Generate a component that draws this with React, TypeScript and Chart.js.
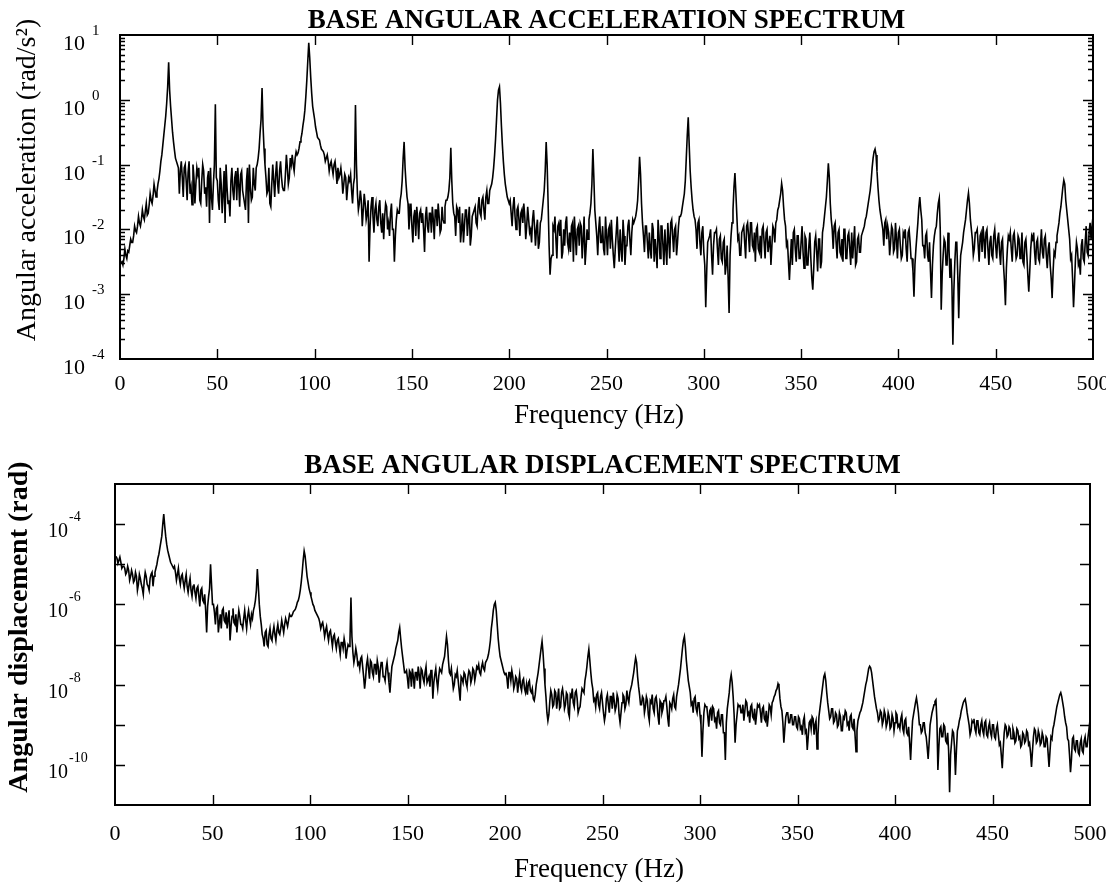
import React, { useEffect, useRef } from "react";
import { Chart, registerables } from "chart.js";

Chart.register(...registerables);

// Frequency grid (Hz), whole-Hz bins shared by both spectra
const frequencyHz = [
  1, 2, 3, 4, 5, 6, 7, 8, 9, 10,
  11, 12, 13, 14, 15, 16, 17, 18, 19, 20,
  21, 22, 23, 24, 25, 26, 27, 28, 29, 30,
  31, 32, 33, 34, 35, 36, 37, 38, 39, 40,
  41, 42, 43, 44, 45, 46, 47, 48, 49, 50,
  51, 52, 53, 54, 55, 56, 57, 58, 59, 60,
  61, 62, 63, 64, 65, 66, 67, 68, 69, 70,
  71, 72, 73, 74, 75, 76, 77, 78, 79, 80,
  81, 82, 83, 84, 85, 86, 87, 88, 89, 90,
  91, 92, 93, 94, 95, 96, 97, 98, 99, 100,
  101, 102, 103, 104, 105, 106, 107, 108, 109, 110,
  111, 112, 113, 114, 115, 116, 117, 118, 119, 120,
  121, 122, 123, 124, 125, 126, 127, 128, 129, 130,
  131, 132, 133, 134, 135, 136, 137, 138, 139, 140,
  141, 142, 143, 144, 145, 146, 147, 148, 149, 150,
  151, 152, 153, 154, 155, 156, 157, 158, 159, 160,
  161, 162, 163, 164, 165, 166, 167, 168, 169, 170,
  171, 172, 173, 174, 175, 176, 177, 178, 179, 180,
  181, 182, 183, 184, 185, 186, 187, 188, 189, 190,
  191, 192, 193, 194, 195, 196, 197, 198, 199, 200,
  201, 202, 203, 204, 205, 206, 207, 208, 209, 210,
  211, 212, 213, 214, 215, 216, 217, 218, 219, 220,
  221, 222, 223, 224, 225, 226, 227, 228, 229, 230,
  231, 232, 233, 234, 235, 236, 237, 238, 239, 240,
  241, 242, 243, 244, 245, 246, 247, 248, 249, 250,
  251, 252, 253, 254, 255, 256, 257, 258, 259, 260,
  261, 262, 263, 264, 265, 266, 267, 268, 269, 270,
  271, 272, 273, 274, 275, 276, 277, 278, 279, 280,
  281, 282, 283, 284, 285, 286, 287, 288, 289, 290,
  291, 292, 293, 294, 295, 296, 297, 298, 299, 300,
  301, 302, 303, 304, 305, 306, 307, 308, 309, 310,
  311, 312, 313, 314, 315, 316, 317, 318, 319, 320,
  321, 322, 323, 324, 325, 326, 327, 328, 329, 330,
  331, 332, 333, 334, 335, 336, 337, 338, 339, 340,
  341, 342, 343, 344, 345, 346, 347, 348, 349, 350,
  351, 352, 353, 354, 355, 356, 357, 358, 359, 360,
  361, 362, 363, 364, 365, 366, 367, 368, 369, 370,
  371, 372, 373, 374, 375, 376, 377, 378, 379, 380,
  381, 382, 383, 384, 385, 386, 387, 388, 389, 390,
  391, 392, 393, 394, 395, 396, 397, 398, 399, 400,
  401, 402, 403, 404, 405, 406, 407, 408, 409, 410,
  411, 412, 413, 414, 415, 416, 417, 418, 419, 420,
  421, 422, 423, 424, 425, 426, 427, 428, 429, 430,
  431, 432, 433, 434, 435, 436, 437, 438, 439, 440,
  441, 442, 443, 444, 445, 446, 447, 448, 449, 450,
  451, 452, 453, 454, 455, 456, 457, 458, 459, 460,
  461, 462, 463, 464, 465, 466, 467, 468, 469, 470,
  471, 472, 473, 474, 475, 476, 477, 478, 479, 480,
  481, 482, 483, 484, 485, 486, 487, 488, 489, 490,
  491, 492, 493, 494, 495, 496, 497, 498, 499, 500,
];

// Half-Hz bins in between
const frequencyHzHalf = [
  0.5, 1.5, 2.5, 3.5, 4.5, 5.5, 6.5, 7.5, 8.5, 9.5,
  10.5, 11.5, 12.5, 13.5, 14.5, 15.5, 16.5, 17.5, 18.5, 19.5,
  20.5, 21.5, 22.5, 23.5, 24.5, 25.5, 26.5, 27.5, 28.5, 29.5,
  30.5, 31.5, 32.5, 33.5, 34.5, 35.5, 36.5, 37.5, 38.5, 39.5,
  40.5, 41.5, 42.5, 43.5, 44.5, 45.5, 46.5, 47.5, 48.5, 49.5,
  50.5, 51.5, 52.5, 53.5, 54.5, 55.5, 56.5, 57.5, 58.5, 59.5,
  60.5, 61.5, 62.5, 63.5, 64.5, 65.5, 66.5, 67.5, 68.5, 69.5,
  70.5, 71.5, 72.5, 73.5, 74.5, 75.5, 76.5, 77.5, 78.5, 79.5,
  80.5, 81.5, 82.5, 83.5, 84.5, 85.5, 86.5, 87.5, 88.5, 89.5,
  90.5, 91.5, 92.5, 93.5, 94.5, 95.5, 96.5, 97.5, 98.5, 99.5,
  100.5, 101.5, 102.5, 103.5, 104.5, 105.5, 106.5, 107.5, 108.5, 109.5,
  110.5, 111.5, 112.5, 113.5, 114.5, 115.5, 116.5, 117.5, 118.5, 119.5,
  120.5, 121.5, 122.5, 123.5, 124.5, 125.5, 126.5, 127.5, 128.5, 129.5,
  130.5, 131.5, 132.5, 133.5, 134.5, 135.5, 136.5, 137.5, 138.5, 139.5,
  140.5, 141.5, 142.5, 143.5, 144.5, 145.5, 146.5, 147.5, 148.5, 149.5,
  150.5, 151.5, 152.5, 153.5, 154.5, 155.5, 156.5, 157.5, 158.5, 159.5,
  160.5, 161.5, 162.5, 163.5, 164.5, 165.5, 166.5, 167.5, 168.5, 169.5,
  170.5, 171.5, 172.5, 173.5, 174.5, 175.5, 176.5, 177.5, 178.5, 179.5,
  180.5, 181.5, 182.5, 183.5, 184.5, 185.5, 186.5, 187.5, 188.5, 189.5,
  190.5, 191.5, 192.5, 193.5, 194.5, 195.5, 196.5, 197.5, 198.5, 199.5,
  200.5, 201.5, 202.5, 203.5, 204.5, 205.5, 206.5, 207.5, 208.5, 209.5,
  210.5, 211.5, 212.5, 213.5, 214.5, 215.5, 216.5, 217.5, 218.5, 219.5,
  220.5, 221.5, 222.5, 223.5, 224.5, 225.5, 226.5, 227.5, 228.5, 229.5,
  230.5, 231.5, 232.5, 233.5, 234.5, 235.5, 236.5, 237.5, 238.5, 239.5,
  240.5, 241.5, 242.5, 243.5, 244.5, 245.5, 246.5, 247.5, 248.5, 249.5,
  250.5, 251.5, 252.5, 253.5, 254.5, 255.5, 256.5, 257.5, 258.5, 259.5,
  260.5, 261.5, 262.5, 263.5, 264.5, 265.5, 266.5, 267.5, 268.5, 269.5,
  270.5, 271.5, 272.5, 273.5, 274.5, 275.5, 276.5, 277.5, 278.5, 279.5,
  280.5, 281.5, 282.5, 283.5, 284.5, 285.5, 286.5, 287.5, 288.5, 289.5,
  290.5, 291.5, 292.5, 293.5, 294.5, 295.5, 296.5, 297.5, 298.5, 299.5,
  300.5, 301.5, 302.5, 303.5, 304.5, 305.5, 306.5, 307.5, 308.5, 309.5,
  310.5, 311.5, 312.5, 313.5, 314.5, 315.5, 316.5, 317.5, 318.5, 319.5,
  320.5, 321.5, 322.5, 323.5, 324.5, 325.5, 326.5, 327.5, 328.5, 329.5,
  330.5, 331.5, 332.5, 333.5, 334.5, 335.5, 336.5, 337.5, 338.5, 339.5,
  340.5, 341.5, 342.5, 343.5, 344.5, 345.5, 346.5, 347.5, 348.5, 349.5,
  350.5, 351.5, 352.5, 353.5, 354.5, 355.5, 356.5, 357.5, 358.5, 359.5,
  360.5, 361.5, 362.5, 363.5, 364.5, 365.5, 366.5, 367.5, 368.5, 369.5,
  370.5, 371.5, 372.5, 373.5, 374.5, 375.5, 376.5, 377.5, 378.5, 379.5,
  380.5, 381.5, 382.5, 383.5, 384.5, 385.5, 386.5, 387.5, 388.5, 389.5,
  390.5, 391.5, 392.5, 393.5, 394.5, 395.5, 396.5, 397.5, 398.5, 399.5,
  400.5, 401.5, 402.5, 403.5, 404.5, 405.5, 406.5, 407.5, 408.5, 409.5,
  410.5, 411.5, 412.5, 413.5, 414.5, 415.5, 416.5, 417.5, 418.5, 419.5,
  420.5, 421.5, 422.5, 423.5, 424.5, 425.5, 426.5, 427.5, 428.5, 429.5,
  430.5, 431.5, 432.5, 433.5, 434.5, 435.5, 436.5, 437.5, 438.5, 439.5,
  440.5, 441.5, 442.5, 443.5, 444.5, 445.5, 446.5, 447.5, 448.5, 449.5,
  450.5, 451.5, 452.5, 453.5, 454.5, 455.5, 456.5, 457.5, 458.5, 459.5,
  460.5, 461.5, 462.5, 463.5, 464.5, 465.5, 466.5, 467.5, 468.5, 469.5,
  470.5, 471.5, 472.5, 473.5, 474.5, 475.5, 476.5, 477.5, 478.5, 479.5,
  480.5, 481.5, 482.5, 483.5, 484.5, 485.5, 486.5, 487.5, 488.5, 489.5,
  490.5, 491.5, 492.5, 493.5, 494.5, 495.5, 496.5, 497.5, 498.5, 499.5,
];

// Base angular acceleration, log10(rad/s^2), at whole-Hz bins
const accelLog10 = [
  -2.50, -2.45, -2.40, -2.33, -2.25, -2.20, -2.10, -2.02, -1.95, -1.90,
  -1.85, -1.80, -1.72, -1.78, -1.62, -1.55, -1.48, -1.40, -1.42, -1.22,
  -0.95, -0.70, -0.40, -0.05, 0.58, -0.10, -0.50, -0.78, -0.95, -1.05,
  -1.10, -1.20, -1.05, -1.25, -1.12, -1.45, -1.62, -1.20, -1.30, -1.15,
  -1.55, -1.25, -1.10, -1.35, -1.20, -1.90, -1.50, -1.30, -0.07, -1.25,
  -1.70, -1.30, -1.45, -1.90, -1.35, -1.55, -1.25, -1.40, -1.20, -1.55,
  -1.30, -1.15, -1.40, -1.60, -1.25, -1.90, -1.35, -1.50, -1.30, -1.05,
  -0.90, -0.50, 0.18, -0.75, -1.20, -1.40, -1.60, -1.30, -1.25, -1.15,
  -1.30, -1.10, -1.20, -1.40, -1.15, -1.05, -1.20, -1.00, -1.00, -0.90,
  -0.85, -0.75, -0.60, -0.40, -0.16, 0.30, 0.88, 0.35, -0.10, -0.30,
  -0.50, -0.60, -0.70, -0.78, -0.85, -0.90, -0.95, -1.00, -1.05, -1.00,
  -1.10, -1.05, -1.15, -1.20, -1.30, -1.20, -1.35, -1.25, -1.40, -1.30,
  -0.08, -1.45, -1.60, -1.55, -1.70, -1.60, -1.75, -2.50, -1.65, -1.80,
  -1.70, -1.85, -1.65, -1.90, -1.75, -1.80, -1.65, -1.90, -1.75, -2.00,
  -2.50, -1.85, -1.75, -1.55, -1.25, -0.65, -1.30, -1.60, -1.75, -1.95,
  -1.80, -2.10, -1.85, -1.75, -1.90, -2.00, -1.80, -1.95, -1.75, -2.05,
  -1.85, -1.70, -1.95, -1.80, -2.00, -1.85, -1.65, -1.55, -1.40, -0.74,
  -1.60, -1.80, -1.65, -1.90, -2.20, -1.75, -1.95, -1.70, -1.85, -2.25,
  -1.80, -1.70, -1.90, -1.65, -1.75, -1.55, -1.70, -1.50, -1.60, -1.40,
  -1.30, -1.05, -0.60, 0.00, 0.20, -0.40, -0.95, -1.30, -1.50, -1.60,
  -1.75, -1.65, -1.80, -1.70, -1.85, -1.75, -1.90, -1.80, -1.95, -1.85,
  -2.00, -1.85, -1.95, -2.00, -2.30, -1.90, -1.70, -1.40, -0.65, -1.60,
  -2.70, -2.40, -2.00, -2.15, -1.95, -2.10, -2.45, -2.00, -1.90, -2.20,
  -2.05, -1.95, -2.50, -2.10, -2.00, -2.25, -1.95, -2.15, -2.55, -2.00,
  -1.85, -1.60, -0.76, -1.70, -2.10, -2.00, -2.20, -1.95, -2.40, -2.10,
  -2.00, -2.30, -2.15, -2.60, -2.05, -2.20, -2.00, -2.50, -2.10, -2.25,
  -1.95, -2.15, -2.05, -1.90, -1.80, -1.55, -0.88, -1.60, -2.10, -1.95,
  -2.20, -2.05, -2.45, -2.00, -2.15, -2.60, -2.10, -1.95, -2.25, -2.00,
  -2.55, -2.15, -1.90, -2.10, -2.00, -2.40, -1.95, -1.80, -1.65, -1.45,
  -0.90, -0.27, -1.10, -1.55, -1.80, -2.00, -1.90, -2.20, -2.05, -2.35,
  -3.20, -2.20, -2.10, -2.40, -2.25, -2.05, -2.30, -2.15, -2.45, -2.20,
  -2.70, -2.25, -3.29, -2.10, -1.70, -1.13, -1.80, -2.10, -2.40, -2.00,
  -2.20, -1.95, -2.10, -1.90, -2.25, -2.05, -2.00, -2.30, -2.10, -2.00,
  -2.20, -2.05, -2.35, -2.10, -2.25, -2.00, -1.90, -1.70, -1.55, -1.29,
  -1.65, -1.95, -2.20, -2.78, -2.15, -2.05, -2.30, -2.10, -2.45, -2.20,
  -2.35, -2.10, -2.55, -2.25, -2.45, -2.93, -2.20, -2.35, -2.15, -2.60,
  -2.05, -1.80, -1.50, -0.98, -1.60, -2.00, -1.95, -2.20, -2.05, -2.35,
  -2.15, -2.00, -2.45, -2.10, -2.30, -2.05, -2.20, -2.55, -2.15, -2.35,
  -2.10, -2.00, -1.85, -1.70, -1.50, -1.25, -0.90, -0.76, -1.10, -1.55,
  -1.80, -2.00, -1.90, -2.15, -2.05, -2.20, -2.00, -2.30, -2.15, -2.05,
  -2.25, -2.40, -2.10, -2.30, -2.05, -2.20, -2.45, -3.04, -2.30, -1.90,
  -1.50, -1.85, -2.25, -2.10, -2.40, -2.20, -3.06, -2.25, -2.00, -1.75,
  -1.52, -3.24, -2.40, -2.20, -2.55, -2.30, -2.45, -3.78, -2.50, -2.20,
  -3.37, -2.40, -2.20, -1.95, -1.70, -1.44, -1.85, -2.15, -2.30, -2.05,
  -2.25, -2.10, -2.35, -2.15, -2.05, -2.30, -2.20, -2.40, -2.10, -2.25,
  -2.15, -2.35, -2.20, -2.55, -3.17, -2.30, -2.15, -2.30, -2.10, -2.25,
  -2.40, -2.15, -2.35, -2.50, -2.20, -2.40, -2.96, -2.30, -2.15, -2.35,
  -2.20, -2.45, -2.25, -2.35, -2.15, -2.40, -2.30, -2.55, -3.06, -2.35,
  -2.20, -2.00, -1.75, -1.50, -1.24, -1.55, -1.85, -2.15, -2.40, -3.20,
  -2.45, -2.30, -2.50, -2.25, -2.45, -2.20, -2.35, -2.05, -2.15, -1.80,
];

// Base angular acceleration, log10(rad/s^2), at half-Hz bins
const accelLog10Half = [
  -2.52, -2.55, -2.30, -2.45, -2.35, -2.15, -2.20, -1.95, -2.05, -1.80,
  -1.95, -1.70, -1.85, -1.60, -1.75, -1.45, -1.60, -1.30, -1.50, -1.30,
  -1.10, -0.85, -0.55, -0.25, 0.20, 0.15, -0.30, -0.65, -0.90, -1.00,
  -1.45, -0.95, -1.50, -1.00, -1.55, -0.95, -1.35, -1.00, -1.60, -1.05,
  -1.05, -1.60, -1.00, -1.45, -1.65, -1.10, -1.05, -1.70, -1.00, -1.20,
  -1.55, -1.05, -1.75, -1.10, -1.00, -1.60, -1.80, -1.05, -1.55, -1.10,
  -1.05, -1.65, -1.10, -1.50, -1.70, -1.05, -1.00, -1.55, -1.05, -1.40,
  -1.00, -0.75, -0.30, -0.40, -1.00, -1.45, -1.05, -1.65, -1.00, -1.50,
  -0.95, -1.45, -0.95, -1.35, -1.40, -0.85, -1.30, -0.90, -0.85, -1.10,
  -0.80, -0.82, -0.65, -0.52, -0.30, 0.05, 0.60, 0.65, 0.10, -0.20,
  -0.42, -0.58, -0.62, -0.76, -0.80, -0.95, -0.85, -1.10, -0.95, -1.15,
  -0.95, -1.30, -1.20, -1.05, -1.45, -1.15, -1.55, -1.20, -1.15, -1.60,
  -1.20, -1.00, -1.70, -1.40, -1.95, -1.45, -1.85, -1.55, -1.95, -1.50,
  -2.05, -1.60, -1.95, -1.55, -2.05, -2.15, -1.60, -2.00, -2.10, -1.60,
  -2.00, -2.10, -1.70, -1.75, -1.45, -0.90, -1.05, -1.50, -2.00, -1.60,
  -2.20, -1.70, -1.65, -2.15, -1.70, -1.75, -2.35, -1.65, -2.05, -1.75,
  -1.65, -2.15, -1.70, -1.60, -2.05, -1.65, -1.90, -1.55, -1.50, -1.20,
  -1.25, -1.75, -2.10, -1.70, -1.65, -2.00, -2.20, -1.70, -2.10, -1.65,
  -2.10, -1.75, -1.65, -1.95, -1.50, -1.80, -1.50, -1.85, -1.40, -1.60,
  -1.35, -1.20, -0.85, -0.30, 0.15, -0.05, -0.70, -1.15, -1.40, -1.55,
  -1.55, -1.95, -1.50, -2.00, -1.65, -2.10, -1.70, -1.60, -2.15, -1.65,
  -2.05, -2.20, -1.70, -2.25, -1.85, -2.20, -1.85, -1.55, -1.10, -1.00,
  -2.25, -2.45, -1.95, -1.80, -2.45, -1.90, -1.85, -2.35, -2.25, -1.80,
  -2.30, -2.35, -1.90, -1.80, -2.40, -1.95, -1.90, -2.45, -1.80, -2.30,
  -2.15, -1.75, -1.30, -1.20, -1.90, -2.40, -1.80, -2.20, -2.30, -1.80,
  -2.40, -1.95, -1.85, -2.40, -2.30, -1.80, -2.50, -2.30, -1.85, -2.55,
  -2.25, -1.85, -2.40, -1.85, -1.85, -1.70, -1.25, -1.15, -1.90, -2.35,
  -1.95, -2.45, -2.30, -1.90, -2.50, -2.35, -1.85, -2.45, -1.95, -2.55,
  -2.30, -1.90, -2.45, -1.85, -2.35, -1.95, -2.20, -1.80, -1.75, -1.55,
  -1.25, -0.55, -0.70, -1.35, -1.70, -1.85, -2.30, -1.85, -2.40, -1.95,
  -2.55, -2.65, -2.15, -2.00, -2.70, -2.05, -2.00, -2.55, -2.10, -2.50,
  -2.15, -2.55, -2.75, -2.40, -1.90, -1.35, -1.45, -2.15, -2.40, -2.05,
  -1.95, -2.45, -1.90, -2.35, -1.90, -2.30, -2.50, -1.95, -2.35, -2.45,
  -1.95, -2.45, -2.00, -2.35, -2.55, -1.95, -2.20, -1.85, -1.65, -1.45,
  -1.40, -1.85, -2.25, -2.50, -2.45, -2.55, -2.00, -2.50, -2.10, -2.45,
  -1.95, -2.60, -2.15, -2.55, -2.05, -2.75, -2.60, -2.10, -2.65, -2.15,
  -2.50, -1.95, -1.65, -1.25, -1.20, -1.85, -2.30, -1.90, -2.45, -2.00,
  -2.40, -2.50, -2.00, -2.45, -2.05, -2.55, -2.45, -1.95, -2.50, -2.10,
  -2.35, -2.05, -1.95, -1.80, -1.60, -1.40, -1.05, -0.80, -0.85, -1.35,
  -1.70, -1.90, -2.25, -1.85, -1.95, -2.40, -1.95, -2.35, -1.90, -2.45,
  -2.00, -2.45, -2.05, -2.00, -2.50, -2.00, -2.45, -2.65, -2.55, -2.10,
  -1.65, -1.70, -2.25, -2.45, -2.05, -2.50, -2.65, -2.55, -2.10, -1.95,
  -1.60, -2.00, -2.70, -2.15, -2.55, -2.05, -2.75, -2.85, -2.95, -2.20,
  -2.70, -2.75, -2.30, -2.05, -1.85, -1.55, -1.60, -2.00, -2.40, -2.05,
  -2.00, -2.50, -2.05, -1.95, -2.45, -2.00, -2.55, -2.10, -2.45, -2.00,
  -2.45, -2.05, -2.55, -2.15, -2.80, -2.60, -2.10, -2.05, -2.50, -2.05,
  -2.45, -2.10, -2.45, -2.05, -2.55, -2.15, -2.70, -2.65, -2.10, -2.05,
  -2.55, -2.15, -2.50, -2.00, -2.45, -2.10, -2.60, -2.20, -2.75, -2.65,
  -2.40, -2.10, -1.90, -1.65, -1.35, -1.30, -1.70, -2.00, -2.45, -2.75,
  -2.85, -2.20, -2.55, -2.70, -2.15, -2.50, -1.95, -2.40, -1.90, -1.95,
];

// Base angular displacement, log10(rad), at whole-Hz bins
const dispLog10 = [
  -4.85, -4.90, -4.95, -5.05, -5.10, -5.20, -5.15, -5.30, -5.25, -5.40,
  -5.30, -5.50, -5.35, -5.60, -5.40, -5.30, -5.55, -5.35, -5.20, -5.30,
  -5.10, -4.85, -4.60, -4.30, -3.75, -4.30, -4.65, -4.85, -5.00, -5.10,
  -5.20, -5.25, -5.35, -5.30, -5.45, -5.40, -5.55, -5.50, -5.65, -5.55,
  -5.70, -5.60, -5.80, -5.65, -5.90, -5.75, -6.70, -5.80, -5.00, -6.00,
  -6.20, -6.10, -6.70, -6.25, -6.15, -6.40, -6.20, -6.35, -6.90, -6.30,
  -6.45, -6.25, -6.40, -6.30, -6.50, -6.35, -6.40, -6.30, -6.35, -6.25,
  -6.15, -5.90, -5.12, -6.00, -6.50, -6.85, -6.70, -7.00, -6.75, -6.85,
  -6.70, -6.75, -6.65, -6.70, -6.60, -6.55, -6.50, -6.45, -6.40, -6.30,
  -6.25, -6.15, -6.05, -5.90, -5.65, -5.20, -4.67, -5.05, -5.45, -5.70,
  -5.90, -6.05, -6.20, -6.30, -6.45, -6.50, -6.60, -6.65, -6.75, -6.70,
  -6.85, -6.80, -6.95, -6.90, -7.05, -6.95, -7.10, -7.00, -7.15, -7.05,
  -5.83, -7.20, -7.30, -7.25, -7.45, -7.35, -7.55, -8.10, -7.50, -7.60,
  -7.40, -7.70, -7.50, -7.75, -7.55, -7.65, -7.45, -7.80, -7.60, -7.70,
  -8.20, -7.55, -7.35, -7.10, -6.90, -6.58, -7.10, -7.50, -7.70, -7.85,
  -7.65, -8.05, -7.80, -7.70, -7.90, -7.75, -7.60, -7.85, -7.70, -7.95,
  -7.80, -7.65, -8.35, -7.75, -7.90, -7.80, -7.65, -7.50, -7.30, -6.80,
  -7.40, -7.75, -7.85, -8.00, -7.80, -7.90, -8.40, -7.85, -7.70, -7.95,
  -7.80, -7.70, -7.85, -7.65, -7.75, -7.60, -7.70, -7.55, -7.60, -7.45,
  -7.35, -7.10, -6.60, -6.15, -5.95, -6.50, -7.10, -7.40, -7.60, -7.75,
  -7.85, -7.70, -7.90, -7.80, -8.00, -7.85, -7.95, -8.05, -7.90, -8.10,
  -8.00, -7.95, -8.15, -8.10, -8.40, -8.00, -7.70, -7.30, -6.92, -7.60,
  -8.30, -8.90, -8.40, -8.25, -8.50, -8.20, -8.35, -8.60, -8.20, -8.30,
  -8.50, -8.25, -8.80, -8.30, -8.45, -8.20, -8.35, -8.60, -8.30, -8.15,
  -7.90, -7.55, -7.12, -7.70, -8.10, -8.35, -8.25, -8.50, -8.30, -8.45,
  -8.90, -8.35, -8.50, -8.30, -8.60, -8.40, -8.55, -8.35, -8.95, -8.45,
  -8.30, -8.50, -8.35, -8.20, -8.00, -7.70, -7.33, -7.80, -8.25, -8.50,
  -8.35, -8.55, -8.40, -8.90, -8.45, -8.60, -8.35, -8.50, -9.00, -8.45,
  -8.60, -8.40, -8.55, -9.05, -8.50, -8.35, -8.55, -8.30, -8.00, -7.60,
  -7.10, -6.80, -7.40, -7.90, -8.20, -8.45, -8.35, -8.60, -8.45, -8.75,
  -9.80, -8.70, -8.55, -8.80, -8.65, -8.90, -8.60, -8.85, -8.70, -8.95,
  -8.75, -9.20, -9.88, -8.60, -8.20, -7.75, -8.30, -9.45, -8.75, -8.55,
  -8.70, -8.50, -8.65, -8.45, -8.70, -8.55, -8.80, -8.60, -8.75, -8.55,
  -8.70, -8.60, -8.85, -8.65, -8.80, -8.55, -8.45, -8.30, -8.15, -7.98,
  -8.35, -8.65, -9.45, -8.80, -8.70, -8.95, -8.75, -9.00, -8.80, -9.10,
  -8.85, -9.05, -8.90, -9.20, -9.63, -8.95, -9.10, -8.85, -9.00, -9.60,
  -8.80, -8.40, -8.00, -7.73, -8.20, -8.65, -8.80, -8.60, -8.90, -8.75,
  -9.00, -8.80, -9.15, -8.85, -8.70, -8.95, -8.80, -9.05, -8.85, -9.67,
  -8.90, -8.70, -8.55, -8.30, -8.00, -7.75, -7.54, -7.70, -8.10, -8.45,
  -8.70, -8.85, -8.70, -8.90, -8.75, -8.95, -8.80, -9.05, -8.85, -8.95,
  -8.75, -9.00, -8.85, -9.10, -8.90, -9.20, -9.05, -9.88, -8.90, -8.60,
  -8.33, -8.70, -9.00, -9.15, -8.95, -9.30, -9.85, -9.00, -8.70, -8.50,
  -8.38, -10.13, -9.10, -9.30, -9.00, -9.40, -9.20, -10.68, -9.45, -9.20,
  -10.25, -9.15, -8.90, -8.65, -8.45, -8.36, -8.70, -9.00, -9.15, -8.95,
  -9.10, -8.90, -9.20, -9.00, -9.15, -8.95, -9.25, -9.05, -9.20, -9.00,
  -9.30, -9.10, -9.25, -9.45, -10.08, -9.20, -9.05, -9.25, -9.10, -9.35,
  -9.20, -9.40, -9.15, -9.30, -9.50, -9.25, -9.40, -9.20, -9.45, -10.05,
  -9.30, -9.15, -9.40, -9.25, -9.45, -9.30, -9.55, -9.35, -10.05, -9.30,
  -9.10, -8.85, -8.55, -8.35, -8.20, -8.45, -8.80, -9.05, -9.40, -10.18,
  -9.35, -9.60, -9.40, -9.70, -9.45, -9.65, -9.40, -9.55, -9.30, -8.88,
];

// Base angular displacement, log10(rad), at half-Hz bins
const dispLog10Half = [
  -4.80, -4.98, -4.82, -5.10, -5.05, -5.25, -5.05, -5.40, -5.15, -5.45,
  -5.20, -5.65, -5.25, -5.50, -5.75, -5.20, -5.50, -5.65, -5.25, -5.55,
  -5.20, -5.00, -4.75, -4.45, -4.00, -4.05, -4.50, -4.75, -4.95, -5.05,
  -5.05, -5.40, -5.10, -5.50, -5.25, -5.60, -5.25, -5.70, -5.35, -5.80,
  -5.50, -5.85, -5.55, -6.05, -5.60, -5.95, -6.15, -6.05, -5.60, -5.50,
  -6.00, -6.50, -6.05, -6.45, -6.60, -6.10, -6.45, -6.60, -6.15, -6.55,
  -6.10, -6.50, -6.70, -6.15, -6.50, -6.60, -6.15, -6.60, -6.15, -6.50,
  -6.35, -6.05, -5.65, -5.55, -6.30, -6.75, -7.05, -6.65, -7.05, -6.60,
  -6.90, -6.55, -6.90, -6.50, -6.75, -6.40, -6.70, -6.35, -6.55, -6.25,
  -6.30, -6.18, -6.12, -5.95, -5.80, -5.45, -4.90, -4.80, -5.30, -5.60,
  -5.80, -6.00, -6.15, -6.25, -6.35, -6.60, -6.45, -6.80, -6.55, -6.90,
  -6.65, -7.05, -6.75, -7.10, -6.85, -7.25, -6.95, -6.85, -7.35, -7.00,
  -6.90, -6.80, -7.45, -7.10, -7.50, -7.60, -7.30, -7.80, -7.85, -7.35,
  -7.85, -7.45, -7.80, -7.50, -7.40, -7.95, -7.45, -7.80, -7.90, -7.45,
  -7.95, -7.85, -7.45, -7.25, -7.00, -6.70, -6.85, -7.30, -7.70, -7.65,
  -8.10, -7.70, -7.60, -8.10, -7.70, -7.55, -8.10, -7.65, -7.95, -7.55,
  -7.95, -8.05, -7.65, -7.95, -7.60, -8.10, -7.60, -7.70, -7.40, -7.05,
  -7.00, -7.70, -7.60, -8.10, -7.75, -7.65, -8.15, -7.80, -7.95, -7.75,
  -8.05, -7.65, -7.95, -7.60, -7.90, -7.55, -7.50, -7.75, -7.45, -7.65,
  -7.40, -7.25, -6.90, -6.40, -6.00, -6.15, -6.85, -7.30, -7.50, -7.70,
  -7.70, -8.10, -7.70, -7.65, -8.10, -7.80, -8.20, -7.75, -8.15, -7.85,
  -8.20, -8.25, -7.90, -8.20, -8.35, -8.25, -7.85, -7.50, -7.10, -7.20,
  -8.00, -8.70, -8.75, -8.15, -8.55, -8.15, -8.60, -8.10, -8.55, -8.10,
  -8.60, -8.20, -8.70, -8.25, -8.10, -8.55, -8.15, -8.70, -8.55, -8.10,
  -8.20, -7.75, -7.30, -7.40, -7.95, -8.40, -8.55, -8.20, -8.60, -8.20,
  -8.70, -8.75, -8.25, -8.70, -8.30, -8.20, -8.65, -8.25, -8.75, -8.70,
  -8.25, -8.60, -8.15, -8.45, -8.10, -7.85, -7.50, -7.45, -8.05, -8.50,
  -8.30, -8.70, -8.30, -8.75, -8.40, -8.25, -8.70, -8.30, -8.80, -8.40,
  -8.70, -8.40, -8.30, -8.85, -8.45, -8.60, -8.25, -8.60, -8.15, -7.80,
  -7.35, -6.90, -7.05, -7.65, -8.05, -8.50, -8.70, -8.30, -8.70, -8.45,
  -9.00, -9.15, -8.50, -8.55, -9.05, -8.60, -8.55, -8.90, -9.10, -8.65,
  -9.00, -8.75, -9.20, -8.95, -8.40, -7.90, -7.95, -8.75, -9.00, -8.50,
  -8.50, -8.70, -8.90, -8.40, -8.75, -8.95, -8.50, -8.85, -9.00, -8.50,
  -8.50, -8.95, -8.55, -8.90, -9.05, -8.50, -8.75, -8.40, -8.25, -8.10,
  -8.05, -8.55, -8.95, -9.10, -8.70, -8.95, -8.75, -9.00, -8.80, -9.05,
  -8.80, -9.10, -9.25, -8.80, -9.15, -9.30, -8.90, -8.80, -9.25, -8.90,
  -9.25, -8.60, -8.20, -7.80, -7.90, -8.45, -8.85, -8.60, -8.95, -8.70,
  -9.05, -8.70, -9.15, -8.80, -8.65, -9.00, -9.15, -8.75, -9.10, -9.25,
  -9.15, -8.80, -8.65, -8.45, -8.15, -7.90, -7.60, -7.58, -7.90, -8.30,
  -8.60, -8.90, -8.65, -9.00, -8.65, -9.05, -8.70, -9.10, -8.75, -9.15,
  -8.70, -9.05, -9.10, -8.75, -9.20, -8.85, -9.25, -9.45, -9.35, -8.75,
  -8.45, -8.50, -9.00, -9.20, -8.95, -9.20, -9.55, -9.45, -8.85, -8.60,
  -8.42, -8.90, -9.55, -9.05, -9.30, -9.05, -9.45, -9.65, -9.75, -9.15,
  -9.55, -9.65, -9.05, -8.80, -8.55, -8.40, -8.50, -8.85, -9.25, -8.90,
  -8.85, -9.20, -8.90, -9.25, -8.90, -9.25, -8.90, -9.30, -8.95, -9.30,
  -9.00, -9.35, -9.00, -9.50, -9.75, -9.60, -9.00, -9.30, -9.05, -9.35,
  -9.10, -9.45, -9.10, -9.35, -9.55, -9.20, -9.45, -9.15, -9.50, -9.70,
  -9.65, -9.10, -9.45, -9.15, -9.50, -9.20, -9.55, -9.30, -9.70, -9.65,
  -9.35, -9.00, -8.70, -8.45, -8.25, -8.30, -8.60, -8.95, -9.35, -9.75,
  -9.85, -9.30, -9.65, -9.40, -9.75, -9.35, -9.70, -9.30, -9.55, -9.10,
];

// Axis ticks and labels
const freqTicks = [0, 50, 100, 150, 200, 250, 300, 350, 400, 450, 500];
const accelLabelExps = [1, 0, -1, -2, -3, -4];
const accelMajorExps = [0, -1, -2, -3];
const accelMinorMantissas = [2, 3, 4, 5, 6, 7, 8, 9];
const accelMinorExps = [-4, -3, -2, -1, 0];
const dispLabelExps = [-4, -6, -8, -10];
const dispMajorExps = [-4, -5, -6, -7, -8, -9, -10];

const SERIF = '"Liberation Serif", "Times New Roman", Times, serif';
const W = 1106;
const H = 441;

type PanelCfg = {
  title: string;
  yTitle: string;
  yTitleBold: boolean;
  yTitleX: number;
  yTitleY: number;
  titleBaseline: number;
  xTitleX: number;
  xTitleBaseline: number;
  xLabelBaseline: number;
  labelExps: number[];
  majorExps: number[];
  minorVals: number[];
  tenX: number;
  expX: number;
  tenSize: number;
  expSize: number;
  tenDy: number;
  expDy: number;
};

function makeOverlay(cfg: PanelCfg) {
  return {
    id: "spectrumOverlay",
    afterDraw(chart: any) {
      const ctx: CanvasRenderingContext2D = chart.ctx;
      const { left, right, top, bottom } = chart.chartArea;
      const xs = chart.scales.x;
      const ys = chart.scales.y;
      ctx.save();
      ctx.fillStyle = "#000";
      ctx.strokeStyle = "#000";
      ctx.lineWidth = 2;
      ctx.strokeRect(left, top, right - left, bottom - top);

      ctx.lineWidth = 1.4;
      ctx.beginPath();
      for (const v of freqTicks) {
        if (v <= 0 || v >= 500) continue;
        const px = Math.round(xs.getPixelForValue(v)) + 0.5;
        ctx.moveTo(px, bottom);
        ctx.lineTo(px, bottom - 10);
        ctx.moveTo(px, top);
        ctx.lineTo(px, top + 10);
      }
      for (const e of cfg.majorExps) {
        const py = Math.round(ys.getPixelForValue(Math.pow(10, e))) + 0.5;
        ctx.moveTo(left, py);
        ctx.lineTo(left + 10, py);
        ctx.moveTo(right, py);
        ctx.lineTo(right - 10, py);
      }
      for (const v of cfg.minorVals) {
        const py = Math.round(ys.getPixelForValue(v)) + 0.5;
        ctx.moveTo(left, py);
        ctx.lineTo(left + 5, py);
        ctx.moveTo(right, py);
        ctx.lineTo(right - 5, py);
      }
      ctx.stroke();

      // x tick labels
      ctx.textAlign = "center";
      ctx.textBaseline = "alphabetic";
      ctx.font = `22px ${SERIF}`;
      for (const v of freqTicks) {
        ctx.fillText(String(v), xs.getPixelForValue(v), cfg.xLabelBaseline);
      }

      // y tick labels: 10 with raised exponent
      ctx.textAlign = "left";
      for (const e of cfg.labelExps) {
        const py = ys.getPixelForValue(Math.pow(10, e));
        ctx.font = `${cfg.tenSize}px ${SERIF}`;
        ctx.fillText("10", cfg.tenX, py + cfg.tenDy);
        ctx.font = `${cfg.expSize}px ${SERIF}`;
        ctx.fillText(String(e), cfg.expX, py + cfg.expDy);
      }

      // titles
      ctx.textAlign = "center";
      ctx.font = `bold 27px ${SERIF}`;
      ctx.fillText(cfg.title, (left + right) / 2, cfg.titleBaseline);
      ctx.font = `27px ${SERIF}`;
      ctx.fillText("Frequency (Hz)", cfg.xTitleX, cfg.xTitleBaseline);

      ctx.save();
      ctx.translate(cfg.yTitleX, cfg.yTitleY);
      ctx.rotate(-Math.PI / 2);
      ctx.font = `${cfg.yTitleBold ? "bold " : ""}28px ${SERIF}`;
      ctx.fillText(cfg.yTitle, 0, 0);
      ctx.restore();

      ctx.restore();
    },
  };
}

function buildChart(
  canvas: HTMLCanvasElement,
  values: number[],
  halfValues: number[],
  yMin: number,
  yMax: number,
  padding: { left: number; right: number; top: number; bottom: number },
  cfg: PanelCfg
) {
  const points: { x: number; y: number }[] = [];
  frequencyHz.forEach((f, i) => {
    points.push({ x: frequencyHzHalf[i], y: Math.pow(10, halfValues[i]) });
    points.push({ x: f, y: Math.pow(10, values[i]) });
  });
  return new Chart(canvas, {
    type: "line",
    data: {
      datasets: [
        {
          data: points,
          borderColor: "#000",
          borderWidth: 1.6,
          pointRadius: 0,
          tension: 0,
          fill: false,
        },
      ],
    },
    options: {
      animation: false,
      responsive: false,
      maintainAspectRatio: false,
      events: [],
      layout: { padding },
      plugins: {
        legend: { display: false },
        tooltip: { enabled: false },
        title: { display: false },
      },
      scales: {
        x: { type: "linear", min: 0, max: 500, display: false },
        y: { type: "logarithmic", min: yMin, max: yMax, display: false },
      },
    },
    plugins: [makeOverlay(cfg)],
  } as any);
}

export default function App() {
  const topRef = useRef<HTMLCanvasElement>(null);
  const botRef = useRef<HTMLCanvasElement>(null);

  useEffect(() => {
    const accelMinor: number[] = [];
    for (const e of accelMinorExps) {
      for (const m of accelMinorMantissas) accelMinor.push(m * Math.pow(10, e));
    }
    const top = buildChart(
      topRef.current!,
      accelLog10,
      accelLog10Half,
      1e-4,
      10,
      { left: 120, right: W - 1093, top: 35, bottom: H - 359 },
      {
        title: "BASE ANGULAR ACCELERATION SPECTRUM",
        yTitle: "Angular acceleration (rad/s²)",
        yTitleBold: false,
        yTitleX: 35,
        yTitleY: 180,
        titleBaseline: 28,
        xTitleX: 599,
        xTitleBaseline: 423,
        xLabelBaseline: 390,
        labelExps: accelLabelExps,
        majorExps: accelMajorExps,
        minorVals: accelMinor,
        tenX: 63,
        expX: 92,
        tenSize: 22,
        expSize: 15,
        tenDy: 15,
        expDy: 0,
      }
    );
    const bot = buildChart(
      botRef.current!,
      dispLog10,
      dispLog10Half,
      1e-11,
      1e-3,
      { left: 115, right: W - 1090, top: 43, bottom: H - 364 },
      {
        title: "BASE ANGULAR DISPLACEMENT SPECTRUM",
        yTitle: "Angular displacement (rad)",
        yTitleBold: true,
        yTitleX: 27,
        yTitleY: 186,
        titleBaseline: 32,
        xTitleX: 599,
        xTitleBaseline: 436,
        xLabelBaseline: 399,
        labelExps: dispLabelExps,
        majorExps: dispMajorExps,
        minorVals: [],
        tenX: 48,
        expX: 69,
        tenSize: 20,
        expSize: 14,
        tenDy: 13,
        expDy: -3,
      }
    );
    return () => {
      top.destroy();
      bot.destroy();
    };
  }, []);

  return (
    <div
      style={{
        position: "absolute",
        left: 0,
        top: 0,
        width: W,
        height: 2 * H,
        background: "#fff",
      }}
    >
      <canvas ref={topRef} width={W} height={H} style={{ display: "block", width: W, height: H }} />
      <canvas ref={botRef} width={W} height={H} style={{ display: "block", width: W, height: H }} />
    </div>
  );
}
